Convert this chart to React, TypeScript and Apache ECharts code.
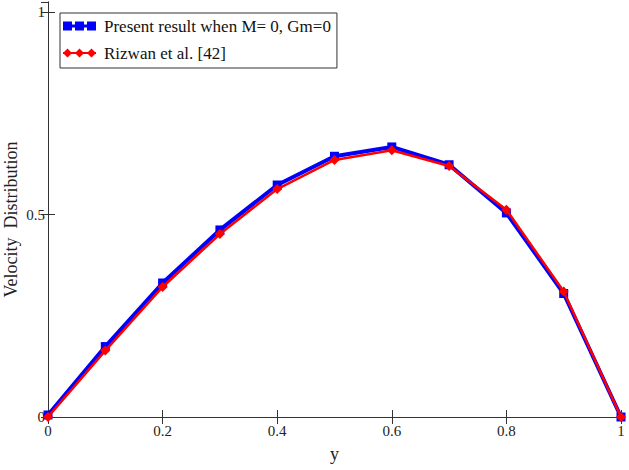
import React, { useEffect, useRef } from "react";
import * as echarts from "echarts";

const xValues = [0, 0.1, 0.2, 0.3, 0.4, 0.5, 0.6, 0.7, 0.8, 0.9, 1.0];
const presentResult = [0.005, 0.174, 0.331, 0.462, 0.573, 0.644, 0.667, 0.623, 0.504, 0.305, 0];
const rizwanResult = [0.0, 0.164, 0.321, 0.452, 0.563, 0.635, 0.659, 0.62, 0.512, 0.31, 0];
const seriesNames = ["Present result when M= 0, Gm=0", "Rizwan et al. [42]"];
const xTicks = [0, 0.2, 0.4, 0.6, 0.8, 1];
const yTicks = [0, 0.5, 1];

const blueIcon =
  "path://M0,0h9v9h-9z M12,0h9v9h-9z M24,0h9v9h-9z M0,3h33v3h-33z";
const redIcon =
  "path://M0,4.5L4.5,0L9,4.5L4.5,9z M12,4.5L16.5,0L21,4.5L16.5,9z M24,4.5L28.5,0L33,4.5L28.5,9z M0,3.5h33v2h-33z";

const FONT = "Liberation Serif";

export default function App() {
  const ref = useRef<HTMLDivElement>(null);
  useEffect(() => {
    if (!ref.current) return;
    const chart = echarts.init(ref.current, null, { renderer: "svg" });
    const axisLine = { show: true, lineStyle: { color: "#333", width: 1 } };
    const axisTick = { show: true, inside: true, length: 7, lineStyle: { color: "#333" } };
    const xMin = xTicks[0];
    const xMax = xTicks[xTicks.length - 1];
    const xInterval = xTicks[1] - xTicks[0];
    const yInterval = yTicks[1] - yTicks[0];
    chart.setOption({
      animation: false,
      backgroundColor: "#fff",
      grid: { left: 48, right: 8, top: 2, bottom: 53, containLabel: false, outerBoundsMode: "none" },
      legend: {
        orient: "vertical",
        left: 60,
        top: 13,
        padding: [3, 6, 5, 3],
        itemGap: 7,
        itemWidth: 33,
        itemHeight: 9,
        borderColor: "#333",
        borderWidth: 1,
        borderRadius: 0,
        backgroundColor: "#fff",
        textStyle: { fontFamily: FONT, fontSize: 17, color: "#111", lineHeight: 20, padding: [0, 0, 0, 3] },
        data: [
          { name: seriesNames[0], icon: blueIcon },
          { name: seriesNames[1], icon: redIcon },
        ],
      },
      xAxis: [
        {
          type: "value",
          position: "bottom",
          min: xMin,
          max: xMax,
          interval: xInterval,
          name: "y",
          nameLocation: "middle",
          nameGap: 28,
          nameMoveOverlap: false,
          nameTextStyle: { fontFamily: FONT, fontSize: 18, color: "#222" },
          axisLine,
          axisTick,
          splitLine: { show: false },
          axisLabel: { fontFamily: FONT, fontSize: 15, color: "#222", margin: 6 },
        },
        {
          type: "value",
          position: "top",
          min: xMin,
          max: xMax,
          interval: xInterval,
          axisLine,
          axisTick,
          splitLine: { show: false },
          axisLabel: { show: false },
        },
      ],
      yAxis: [
        {
          type: "value",
          position: "left",
          min: 0,
          max: 1.025,
          interval: yInterval,
          name: "Velocity  Distribution",
          nameLocation: "middle",
          nameGap: 28,
          nameMoveOverlap: false,
          nameTextStyle: { fontFamily: FONT, fontSize: 18, color: "#222", padding: [0, 0, 0, -20] },
          axisLine,
          axisTick,
          splitLine: { show: false },
          axisLabel: { fontFamily: FONT, fontSize: 15, color: "#222", margin: 3, showMaxLabel: false },
        },
        {
          type: "value",
          position: "right",
          min: 0,
          max: 1.025,
          interval: yInterval,
          axisLine,
          axisTick,
          splitLine: { show: false },
          axisLabel: { show: false },
        },
      ],
      series: [
        {
          name: seriesNames[0],
          type: "line",
          xAxisIndex: 0,
          yAxisIndex: 0,
          data: xValues.map((x, i) => [x, presentResult[i]]),
          color: "#0000ff",
          lineStyle: { color: "#0000ff", width: 4 },
          itemStyle: { color: "#0000ff" },
          symbol: "rect",
          symbolSize: 9,
          showSymbol: true,
          z: 2,
        },
        {
          name: seriesNames[1],
          type: "line",
          xAxisIndex: 0,
          yAxisIndex: 0,
          data: xValues.map((x, i) => [x, rizwanResult[i]]),
          color: "#ff0000",
          lineStyle: { color: "#ff0000", width: 2.5 },
          itemStyle: { color: "#ff0000" },
          symbol: "diamond",
          symbolSize: 10,
          showSymbol: true,
          z: 3,
        },
      ],
    });
    return () => chart.dispose();
  }, []);
  return <div ref={ref} style={{ width: 629, height: 470, position: "absolute", left: 0, top: 0 }} />;
}
